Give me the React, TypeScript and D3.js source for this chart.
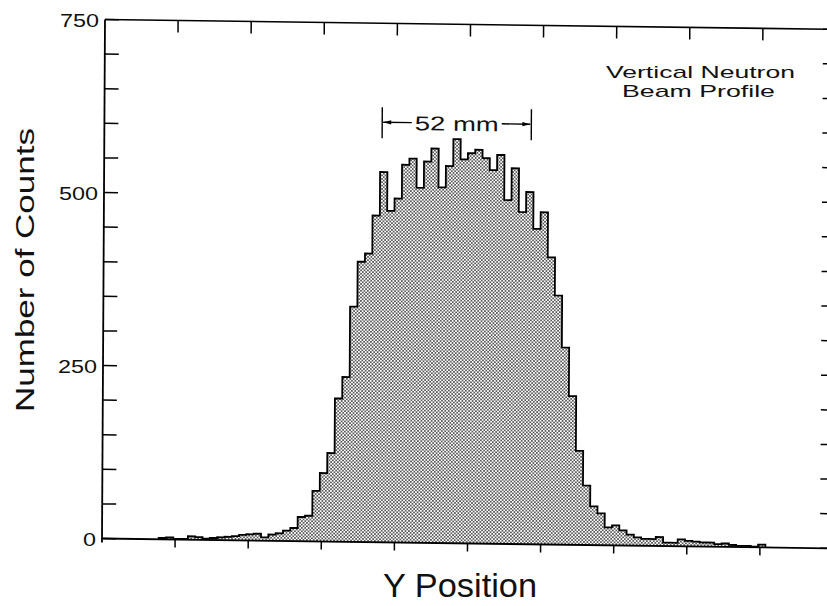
import React from 'react';
import * as d3 from 'd3';

// ---- data ----
const binStart = 7.75; // left edge of first bin (x units, 10 units per tick)
const binWidth = 1;
const counts = [
  2, 3, 1, 1, 5, 4, 2, 3, 4, 5, 6, 8, 9, 10, 5, 9, 11, 15, 19, 35, 37, 73,
  99, 128, 207, 238, 340, 405, 417, 472, 535, 479, 497, 546, 555, 513, 551,
  570, 514, 545, 584, 555, 564, 569, 557, 540, 562, 497, 543, 480, 509, 456,
  480, 415, 360, 285, 215, 136, 86, 56, 46, 26, 29, 22, 16, 12, 10, 10, 13,
  5, 5, 10, 8, 7, 6, 6, 4, 5, 3, 2, 2, 1, 4,
];
const xDomain = [0, 100];
const yDomain = [0, 750];
const xTickValues = [10, 20, 30, 40, 50, 60, 70, 80, 90];
const yLabelValues = [0, 250, 500, 750];
const yMinorStep = 50;
const spanFrom = 38;
const spanTo = 58.4;
const spanLevel = 607;
const spanLabel = '52 mm';
const boxTitle = ['Vertical Neutron', 'Beam Profile'];
const xTitle = 'Y Position';
const yTitle = 'Number of Counts';

const FONT = "'Liberation Sans', Arial, Helvetica, sans-serif";

export default function App() {
  const W = 731;
  const H = 519;
  const x = d3.scaleLinear().domain(xDomain).range([0, W]);
  const y = d3.scaleLinear().domain(yDomain).range([H, 0]);
  // slight skew of the scanned page
  const M = { a: 1, b: 0.0135, c: -0.00578, d: 1, e: 105, f: 19.5 };
  const toG = (u: number, v: number) => [M.a * u + M.c * v + M.e, M.b * u + M.d * v + M.f];

  type P = { x0: number; c: number };
  const pts: P[] = [{ x0: binStart, c: 0 }];
  counts.forEach((c, i) => pts.push({ x0: binStart + i * binWidth, c }));
  pts.push({ x0: binStart + counts.length * binWidth, c: 0 });

  const area = d3
    .area<P>()
    .x((d) => x(d.x0))
    .y0(y(0))
    .y1((d) => y(d.c))
    .curve(d3.curveStepAfter);
  const line = d3
    .line<P>()
    .x((d) => x(d.x0))
    .y((d) => y(d.c))
    .curve(d3.curveStepAfter);

  const minorTicks = d3.range(yDomain[0], yDomain[1] + 1, yMinorStep);

  const ax0 = x(spanFrom);
  const ax1 = x(spanTo);
  const ay = y(spanLevel);
  const txtMid = (ax0 + ax1) / 2;
  const txtLen = 84;

  return (
    <svg
      width={827}
      height={606}
      style={{ position: 'absolute', left: 0, top: 0, background: '#fff' }}
      fontFamily={FONT}
    >
      <defs>
        <pattern id="dots" width={3.4} height={3.4} patternUnits="userSpaceOnUse">
          <rect width={3.4} height={3.4} fill="#fff" />
          <circle cx={0.85} cy={0.85} r={0.85} fill="#222" />
          <circle cx={2.55} cy={2.55} r={0.85} fill="#222" />
        </pattern>
      </defs>
      <rect width={827} height={606} fill="#fff" />
      <g transform={`matrix(${M.a},${M.b},${M.c},${M.d},${M.e},${M.f})`}>
        {/* histogram */}
        <path d={area(pts) || ''} fill="url(#dots)" />
        <path d={line(pts) || ''} fill="none" stroke="#000" strokeWidth={1.8} />
        {/* frame */}
        <line x1={0} y1={0} x2={W} y2={0} stroke="#000" strokeWidth={1.6} />
        <line x1={0} y1={H} x2={W} y2={H} stroke="#000" strokeWidth={1.8} />
        <line x1={0} y1={0} x2={0} y2={H + 4} stroke="#000" strokeWidth={1.8} />
        <line x1={W} y1={0} x2={W} y2={H} stroke="#000" strokeWidth={1.6} />
        {/* y ticks left and right (inward) */}
        {minorTicks.map((t) => (
          <g key={'yt' + t}>
            <line x1={0} x2={14} y1={y(t)} y2={y(t)} stroke="#000" strokeWidth={1.5} />
            <line x1={W - 13} x2={W} y1={y(t)} y2={y(t)} stroke="#000" strokeWidth={1.5} />
          </g>
        ))}
        {/* x ticks: top inward, bottom outward */}
        {xTickValues.map((t) => (
          <g key={'xt' + t}>
            <line x1={x(t)} x2={x(t)} y1={0} y2={12} stroke="#000" strokeWidth={1.5} />
            <line x1={x(t)} x2={x(t)} y1={H} y2={H + 8} stroke="#000" strokeWidth={1.5} />
          </g>
        ))}
        {/* 52 mm span annotation */}
        <g stroke="#000" strokeWidth={1.4}>
          <line x1={ax0} x2={ax0} y1={ay - 15} y2={ay + 16} />
          <line x1={ax1} x2={ax1} y1={ay - 15} y2={ay + 16} />
          <line x1={ax0 + 1} x2={txtMid - txtLen / 2 - 3} y1={ay} y2={ay} />
          <line x1={txtMid + txtLen / 2 + 3} x2={ax1 - 1} y1={ay} y2={ay} />
        </g>
        <path
          d={`M${ax0 + 1},${ay} L${ax0 + 9},${ay - 2.2} L${ax0 + 9},${ay + 2.2} Z`}
          fill="#000"
        />
        <path
          d={`M${ax1 - 1},${ay} L${ax1 - 9},${ay - 2.2} L${ax1 - 9},${ay + 2.2} Z`}
          fill="#000"
        />
        <text
          x={txtMid - txtLen / 2}
          y={ay + 7.5}
          fontSize={20}
          textLength={txtLen}
          lengthAdjust="spacingAndGlyphs"
          fill="#111"
        >
          {spanLabel}
        </text>
      </g>

      {/* y tick labels */}
      {yLabelValues.map((t) => {
        const [gx, gy] = toG(0, y(t));
        const len = String(t).length * 13;
        return (
          <text
            key={'yl' + t}
            x={gx - 6 - len}
            y={gy + 7}
            fontSize={19}
            textLength={len}
            lengthAdjust="spacingAndGlyphs"
            fill="#111"
          >
            {t}
          </text>
        );
      })}

      {/* box title */}
      <text x={606} y={77.5} fontSize={17} textLength={189} lengthAdjust="spacingAndGlyphs" fill="#111">
        {boxTitle[0]}
      </text>
      <text x={622} y={97} fontSize={17} textLength={153} lengthAdjust="spacingAndGlyphs" fill="#111">
        {boxTitle[1]}
      </text>

      {/* axis titles */}
      <text x={383} y={597} fontSize={33} textLength={154} lengthAdjust="spacingAndGlyphs" fill="#111">
        {xTitle}
      </text>
      <text
        transform="translate(33.5,412) rotate(-90)"
        x={0}
        y={0}
        fontSize={25.5}
        textLength={284}
        lengthAdjust="spacingAndGlyphs"
        fill="#111"
      >
        {yTitle}
      </text>
    </svg>
  );
}
